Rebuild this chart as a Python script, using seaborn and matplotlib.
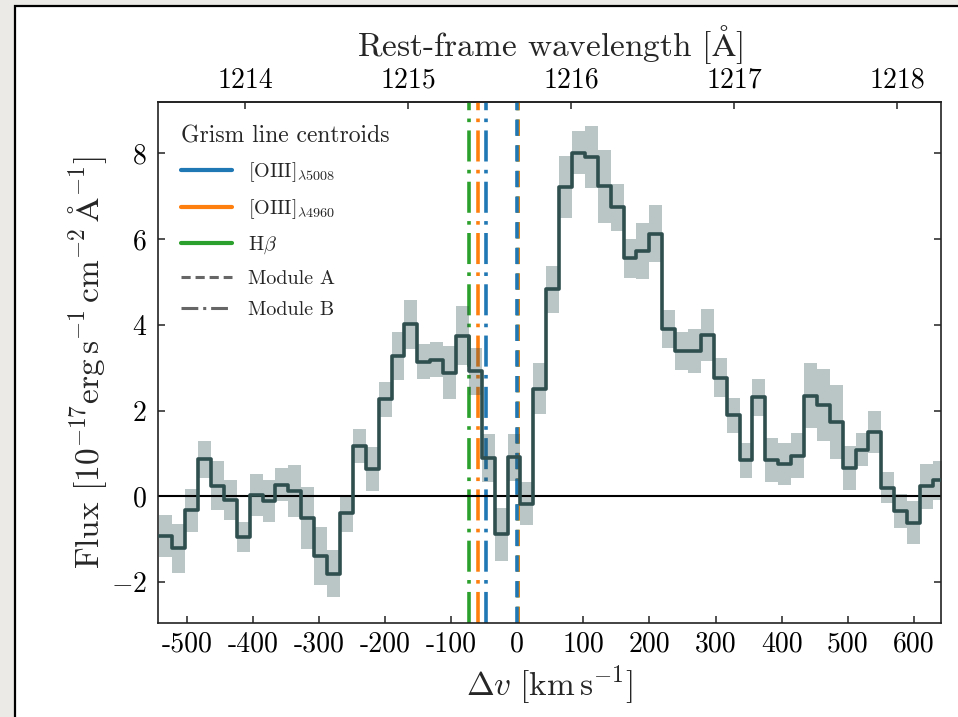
import numpy as np
import pandas as pd
import matplotlib
matplotlib.use("Agg")
import matplotlib.pyplot as plt
import seaborn as sns
from matplotlib.lines import Line2D
from matplotlib.patches import Rectangle

# ---------------- data ----------------
velocity = [-531.5, -512.0, -492.5, -473.0, -453.5, -434.0, -414.5, -395.0, -375.5, -356.0,
            -336.5, -317.0, -297.5, -278.0, -258.5, -239.0, -219.5, -200.0, -180.5, -161.0,
            -141.5, -122.0, -102.5, -83.0, -63.5, -44.0, -24.5, -5.0, 14.5, 34.0,
            53.5, 73.0, 92.5, 112.0, 131.5, 151.0, 170.5, 190.0, 209.5, 229.0,
            248.5, 268.0, 287.5, 307.0, 326.5, 346.0, 365.5, 385.0, 404.5, 424.0,
            443.5, 463.0, 482.5, 502.0, 521.5, 541.0, 560.5, 580.0, 599.5, 619.0,
            638.5]
flux = [-0.92, -1.21, -0.33, 0.86, 0.25, -0.09, -0.95, 0.04, -0.12, 0.27,
        0.12, -0.50, -1.40, -1.81, -0.40, 1.17, 0.64, 2.26, 3.27, 4.01,
        3.14, 3.19, 2.88, 3.75, 2.92, 0.90, -0.89, 0.91, -0.17, 2.51,
        4.83, 7.22, 8.02, 7.92, 7.23, 6.74, 5.55, 5.72, 6.13, 3.91,
        3.39, 3.39, 3.76, 2.77, 1.89, 0.84, 2.31, 0.84, 0.76, 0.95,
        2.35, 2.14, 1.73, 0.66, 1.09, 1.50, 0.20, -0.35, -0.62, 0.23,
        0.37]
flux_err = [0.49, 0.57, 0.50, 0.44, 0.57, 0.46, 0.35, 0.49, 0.49, 0.39,
            0.60, 0.72, 0.68, 0.55, 0.43, 0.39, 0.51, 0.40, 0.56, 0.58,
            0.41, 0.41, 0.62, 0.68, 0.55, 0.56, 0.62, 0.55, 0.51, 0.60,
            0.55, 0.73, 0.51, 0.72, 0.86, 0.54, 0.46, 0.66, 0.67, 0.44,
            0.44, 0.52, 0.61, 0.45, 0.41, 0.41, 0.43, 0.51, 0.49, 0.52,
            0.76, 0.84, 0.86, 0.51, 0.39, 0.49, 0.36, 0.40, 0.50, 0.53,
            0.46]
bin_width = 19.5

line_labels = [r'[OIII]$_{\lambda5008}$', r'[OIII]$_{\lambda4960}$', r'H$\beta$']
line_colors = ['#1f77b4', '#ff7f0e', '#2ca02c']
module_a_v = [0.0, 0.8, 1.8]       # km/s
module_b_v = [-47.0, -59.0, -73.0]  # km/s
module_labels = ['Module A', 'Module B']

xticks = [-500, -400, -300, -200, -100, 0, 100, 200, 300, 400, 500, 600]
xticklabels = ['-500', '-400', '-300', '-200', '-100', '0', '100', '200', '300', '400', '500', '600']
yticks = [-2, 0, 2, 4, 6, 8]
lam_ticks = [1214, 1215, 1216, 1217, 1218]
lam_ticklabels = ['1214', '1215', '1216', '1217', '1218']
lya_rest = 1215.67
c_kms = 299792.458

# ---------------- style ----------------
sns.set_theme(style="ticks")
plt.rcParams.update({
    "font.family": ["cmr10", "DejaVu Serif"],
    "mathtext.fontset": "cm",
    "axes.formatter.use_mathtext": True,
    "axes.unicode_minus": True,
    "axes.linewidth": 1.2,
    "axes.edgecolor": "#222222",
    "xtick.direction": "in",
    "ytick.direction": "in",
    "xtick.major.size": 5,
    "ytick.major.size": 5,
    "xtick.major.width": 1.1,
    "ytick.major.width": 1.1,
    "xtick.color": "#222222",
    "ytick.color": "#222222",
    "xtick.labelcolor": "black",
    "ytick.labelcolor": "black",
})

fig = plt.figure(figsize=(9.58, 7.17), dpi=100)
fig.patch.set_facecolor("#ebeae7")
fig.patches.append(Rectangle((14.5 / 958, -0.1), 1.2, 1.1 - 5.5 / 717 + 0.0,
                             transform=fig.transFigure, facecolor="white",
                             edgecolor="black", linewidth=1.6, zorder=-10))
ax = fig.add_axes([158 / 958, 1 - 622.7 / 717, (941 - 158) / 958, (622.7 - 102) / 717])
ax.set_facecolor("white")

# step table built from the bin centres
v = np.array(velocity)
f = np.array(flux)
e = np.array(flux_err)
edges = np.append(v - bin_width / 2, v[-1] + bin_width / 2)
f_ext = np.append(f, f[-1])
e_ext = np.append(e, e[-1])
df = pd.DataFrame({"v": edges, "flux": f_ext})

# centroid lines (drawn beneath the spectrum)
for name, col, va, vb in reversed(list(zip(line_labels, line_colors, module_a_v, module_b_v))):
    ax.axvline(va, color=col, lw=2.6, ls=(0, (4.5, 2.6)), zorder=1)
    ax.axvline(vb, color=col, lw=2.6, ls=(0, (8.6, 2.3, 1.0, 2.3)), zorder=1)

ax.fill_between(edges, f_ext - e_ext, f_ext + e_ext, step="post",
                color="#2f4f4f", alpha=0.33, lw=0, zorder=2)
ax.axhline(0, color="black", lw=1.5, zorder=2.5)
sns.lineplot(data=df, x="v", y="flux", drawstyle="steps-post", color="#2f4f4f",
             lw=2.6, ax=ax, zorder=3, estimator=None)

ax.set_xlim(-543.5, 641)
ax.set_ylim(-2.95, 9.2)
ax.set_xticks(xticks)
ax.set_xticklabels(xticklabels)
ax.set_yticks(yticks)
ax.tick_params(axis="both", labelsize=20, pad=6)
ax.tick_params(axis="y", right=True, pad=8)
ax.tick_params(axis="x", top=False)
ax.set_xlabel(r'$\Delta v\ [\mathrm{km\,s^{-1}}]$', fontsize=24, labelpad=4)
ax.set_ylabel(r'Flux $[10^{-17}\mathrm{erg\,s^{-1}\,cm^{-2}\,\AA^{-1}}]$', fontsize=24, labelpad=1)


def v_to_lam(x):
    return lya_rest * (1 + np.asarray(x) / c_kms)


def lam_to_v(x):
    return c_kms * (np.asarray(x) / lya_rest - 1)


sec = ax.secondary_xaxis("top", functions=(v_to_lam, lam_to_v))
sec.set_xticks(lam_ticks)
sec.set_xticklabels(lam_ticklabels)
sec.tick_params(axis="x", direction="in", labelsize=20, pad=6, length=5, width=1.1)
sec.set_xlabel(r'Rest-frame wavelength [$\mathrm{\AA}$]', fontsize=24, labelpad=8)

handles = [Line2D([], [], color=c, lw=3) for c in line_colors]
handles += [Line2D([], [], color="#666666", lw=2.2, ls=(0, (3.0, 1.6))),
            Line2D([], [], color="#666666", lw=2.2, ls=(0, (5.5, 1.6, 1.0, 1.6)))]
leg = ax.legend(handles=handles, labels=line_labels + module_labels,
                title="Grism line centroids", loc="upper left", frameon=False,
                fontsize=14.5, title_fontsize=17, handlelength=2.5,
                handletextpad=0.8, labelspacing=0.66, borderaxespad=0.75,
                alignment="left")

fig.savefig("out.png", dpi=100, facecolor=fig.get_facecolor())
